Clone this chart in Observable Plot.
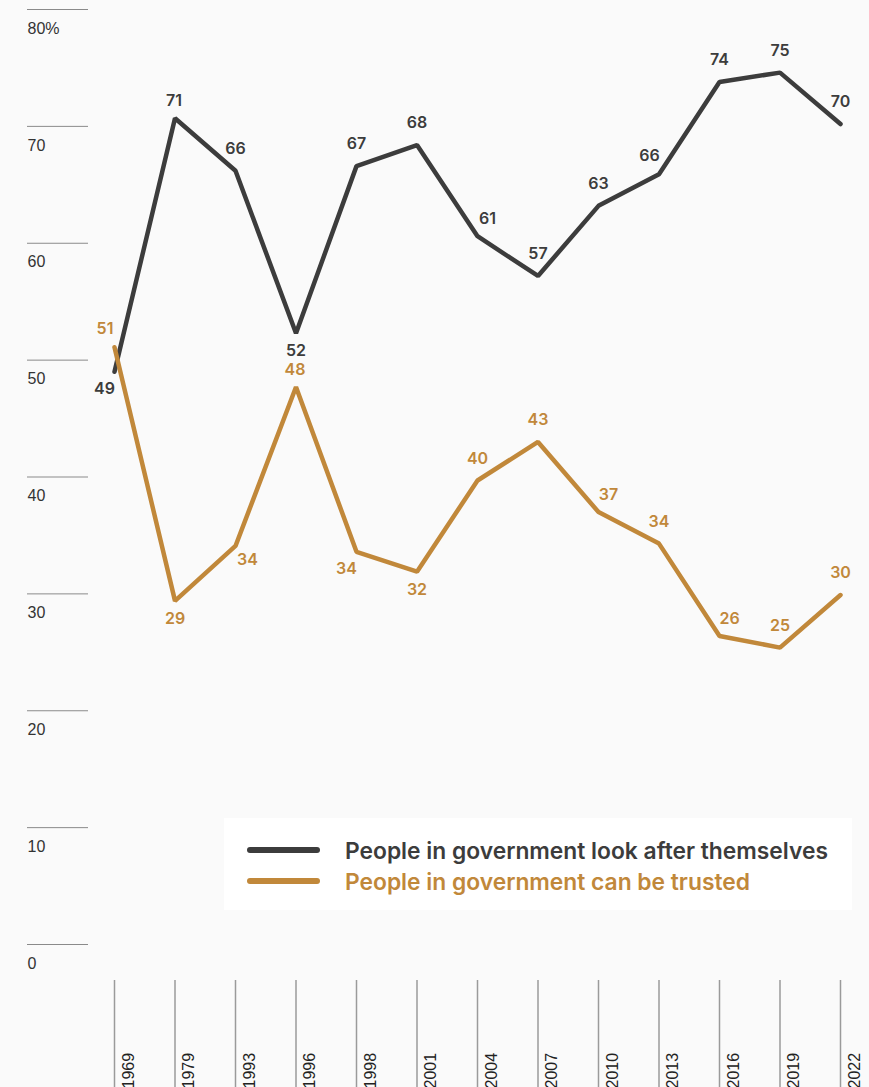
<!DOCTYPE html>
<html>
<head>
<meta charset="utf-8">
<script src="https://cdn.jsdelivr.net/npm/d3@7"></script>
<script src="https://cdn.jsdelivr.net/npm/@observablehq/plot@0.6"></script>
<style>
  html, body { margin: 0; padding: 0; background: #fafafa; }
  #wrap { position: relative; width: 869px; height: 1087px; overflow: hidden; }
  #legend { position: absolute; left: 224px; top: 818px; width: 628px; height: 92px; background: #ffffff;
            font-family: Inter, "Noto Sans", sans-serif; font-weight: 600; font-size: 22.8px; }
  .item { position: absolute; left: 23px; display: flex; align-items: center; height: 30px; white-space: nowrap; }
  .swatch { width: 73px; height: 6px; border-radius: 3px; margin-right: 25px; }
</style>
</head>
<body>
<div id="wrap"></div>
<script>
// ---- data ----
const years = ["1969","1979","1993","1996","1998","2001","2004","2007","2010","2013","2016","2019","2022"];
// values (labels show them rounded)
const lookAfterThemselves = [49.0, 70.7, 66.2, 52.3, 66.6, 68.4, 60.6, 57.2, 63.2, 65.9, 73.8, 74.6, 70.2];
const canBeTrusted        = [51.1, 29.4, 34.1, 47.7, 33.6, 31.9, 39.7, 43.0, 37.0, 34.3, 26.4, 25.4, 29.9];
const seriesNames = ["People in government look after themselves", "People in government can be trusted"];
const seriesColors = ["#3c3c3c", "#c1883a"];
const yTicks = [0, 10, 20, 30, 40, 50, 60, 70, 80];
// label placement codes (compass direction from the point; "n" = close above)
const lookLabelPlace  = ["SW","n","N","S","N","N","NE","N","N","NW","N","N","N"];
const trustLabelPlace = ["NW","S","SE","n","SW","S","N","N","NE","N","NE","N","N"];

// ---- build table ----
const rows = [];
years.forEach((y, i) => rows.push({year: y, value: lookAfterThemselves[i], series: seriesNames[0], place: lookLabelPlace[i]}));
years.forEach((y, i) => rows.push({year: y, value: canBeTrusted[i], series: seriesNames[1], place: trustLabelPlace[i]}));

const offsets = {N: [0, -22], n: [-1, -17], S: [0, 18], NE: [10, -17.5], NW: [-9.5, -18.5], SE: [12, 14], SW: [-10, 17]};
const labelMarks = Object.entries(offsets).map(([code, [dx, dy]]) =>
  Plot.text(rows.filter(r => r.place === code), {
    x: "year", y: "value", text: d => String(Math.round(d.value)), fill: "series",
    dx, dy, fontSize: 16, fontWeight: 600, fontFamily: "Inter, sans-serif"
  })
);

const axisFont = "'Liberation Sans', Arial, Helvetica, sans-serif";

const chart = Plot.plot({
  width: 869,
  height: 1087,
  marginTop: 9,
  marginBottom: 143,
  marginLeft: 88,
  marginRight: 29,
  style: {background: "transparent", fontFamily: axisFont, fontSize: "16px", color: "#333", overflow: "visible"},
  x: {type: "point", domain: years, padding: 0, round: false, insetLeft: 26, axis: null},
  y: {domain: [0, 80], axis: null},
  color: {domain: seriesNames, range: seriesColors},
  marks: [
    Plot.axisY(yTicks, {tickSize: 61, fill: "none", stroke: "#8a8a8a", strokeWidth: 1, label: null}),
    Plot.axisY(yTicks, {tickSize: 0, tickPadding: 61, textAnchor: "start", dy: 19, label: null,
      fill: "#333", fontSize: 16, fontFamily: axisFont, tickFormat: d => d === 80 ? "80%" : String(d)}),
    Plot.tickX(years, {x: d => d, insetTop: 971, insetBottom: -143, stroke: "#9a9a9a", strokeWidth: 1.5}),
    Plot.text(years, {x: d => d, frameAnchor: "bottom", rotate: -90, textAnchor: "start", dx: 19, dy: 144,
      fill: "#222", fontSize: 16, fontFamily: axisFont}),
    Plot.line(rows.filter(r => r.series === seriesNames[0]), {x: "year", y: "value", stroke: "series", strokeWidth: 4.5, strokeLinejoin: "miter"}),
    Plot.line(rows.filter(r => r.series === seriesNames[1]), {x: "year", y: "value", stroke: "series", strokeWidth: 4.5, strokeLinejoin: "miter"}),
    ...labelMarks
  ]
});

const wrap = document.getElementById("wrap");
wrap.appendChild(chart);

// legend
const legend = document.createElement("div");
legend.id = "legend";
seriesNames.forEach((name, i) => {
  const item = document.createElement("div");
  item.className = "item";
  item.style.top = (17 + i * 31) + "px";
  const sw = document.createElement("div");
  sw.className = "swatch";
  sw.style.background = seriesColors[i];
  const label = document.createElement("span");
  label.textContent = name;
  label.style.color = seriesColors[i];
  item.appendChild(sw);
  item.appendChild(label);
  legend.appendChild(item);
});
wrap.appendChild(legend);
</script>
</body>
</html>
